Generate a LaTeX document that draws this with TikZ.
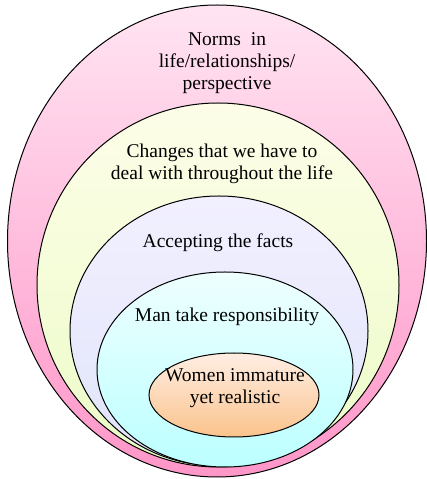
\documentclass[tikz,border=0pt]{standalone}
\usepackage{fontspec}
\setmainfont{Liberation Serif}
\usetikzlibrary{positioning}

\definecolor{normsTop}{RGB}{255,228,242}
\definecolor{normsBot}{RGB}{255,150,200}
\definecolor{changesTop}{RGB}{253,253,232}
\definecolor{changesBot}{RGB}{236,252,200}
\definecolor{factsTop}{RGB}{242,240,255}
\definecolor{factsBot}{RGB}{224,228,250}
\definecolor{manTop}{RGB}{238,255,255}
\definecolor{manBot}{RGB}{188,255,255}
\definecolor{womenTop}{RGB}{255,238,228}
\definecolor{womenBot}{RGB}{250,195,140}

\tikzset{
    ring/.style={draw=black,line width=1pt},
    lbl/.style={align=center,font=\fontsize{19.5}{22}\selectfont,inner sep=0pt},
}

\begin{document}
\begin{tikzpicture}[x=1pt,y=1pt]

    \useasboundingbox (0,0) rectangle (427,479);

    \def\ringNorms{(217,238) ellipse (209.5 and 236)}
    \def\ringChanges{(218,194) ellipse (181 and 182)}
    \def\ringFacts{(219,148) ellipse (149 and 135)}
    \def\ringMan{(225,109.5) ellipse (128 and 97.5)}
    \def\ringWomen{(234,84) ellipse (85 and 42)}

    \shade[ring,top color=normsTop,bottom color=normsBot] \ringNorms;
    \shade[ring,top color=changesTop,bottom color=changesBot] \ringChanges;
    \shade[ring,top color=factsTop,bottom color=factsBot] \ringFacts;
    \shade[ring,top color=manTop,bottom color=manBot] \ringMan;
    \shade[ring,top color=womenTop,bottom color=womenBot] \ringWomen;

    \node [lbl] (norms) at (227,416) {Norms\ \ in\\life/relationships/\\perspective};
    \node [lbl] (changes) at (222,315) {Changes that we have to\\deal with throughout the life};
    \node [lbl] (facts) at (218,236) {Accepting the facts};
    \node [lbl] (man) at (227,162) {Man take responsibility};
    \node [lbl] (women) at (235,91) {Women immature\\yet realistic};

\end{tikzpicture}
\end{document}
